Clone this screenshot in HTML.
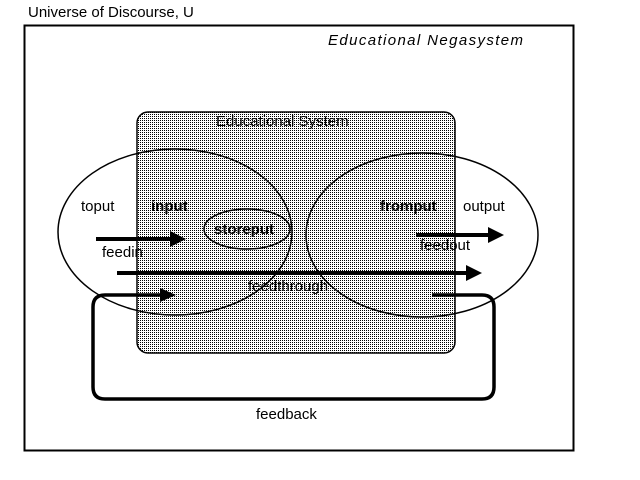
<!DOCTYPE html>
<html><head><style>
html,body{margin:0;padding:0;background:#fff;}
svg{display:block;}
text{font-family:"Liberation Sans",sans-serif;font-size:15px;fill:#000;}
</style></head><body>
<svg width="640" height="480" viewBox="0 0 640 480" xmlns="http://www.w3.org/2000/svg">
<defs>
<pattern id="dots" width="2" height="2" patternUnits="userSpaceOnUse">
<rect width="2" height="2" fill="#fff"/>
<rect width="1" height="1" fill="#000"/>
</pattern>
<marker id="ah" markerWidth="4" markerHeight="4" refX="0.5" refY="2" orient="auto" markerUnits="strokeWidth">
<path d="M0,0 L4,2 L0,4 z" fill="#000"/>
</marker>
</defs>
<rect x="0" y="0" width="640" height="480" fill="#fff"/>
<text x="28" y="17">Universe of Discourse, U</text>
<rect x="24.5" y="25.5" width="549" height="425" fill="none" stroke="#000" stroke-width="2"/>
<text x="328" y="45" font-style="italic" font-size="16" textLength="195">Educational Negasystem</text>
<rect x="137" y="112" width="318" height="241" rx="11" fill="url(#dots)" stroke="#000" stroke-width="1.5"/>
<text x="216" y="126">Educational System</text>
<ellipse cx="175" cy="232" rx="117" ry="83" fill="none" stroke="#000" stroke-width="1.5"/>
<ellipse cx="422" cy="235" rx="116" ry="82" fill="none" stroke="#000" stroke-width="1.5"/>
<ellipse cx="247" cy="229" rx="43" ry="20" fill="none" stroke="#000" stroke-width="1.5"/>
<text x="81" y="211">toput</text>
<text x="151" y="211" font-weight="bold">input</text>
<text x="214" y="234" font-weight="bold">storeput</text>
<text x="380" y="211" font-weight="bold">fromput</text>
<text x="463" y="211">output</text>
<text x="102" y="257">feedin</text>
<text x="420" y="250">feedout</text>
<text x="248" y="291">feedthrough</text>
<text x="256" y="419">feedback</text>
<line x1="96" y1="239" x2="172" y2="239" stroke="#000" stroke-width="4" marker-end="url(#ah)"/>
<line x1="117" y1="273" x2="468" y2="273" stroke="#000" stroke-width="4" marker-end="url(#ah)"/>
<line x1="416" y1="235" x2="490" y2="235" stroke="#000" stroke-width="4" marker-end="url(#ah)"/>
<path d="M162 295 H105 Q93 295 93 307 V387 Q93 399 105 399 H482 Q494 399 494 387 V307 Q494 295 482 295 H432" fill="none" stroke="#000" stroke-width="3.5"/>
<path d="M160 288 L176 295 L160 302 z" fill="#000"/>
</svg>
</body></html>
